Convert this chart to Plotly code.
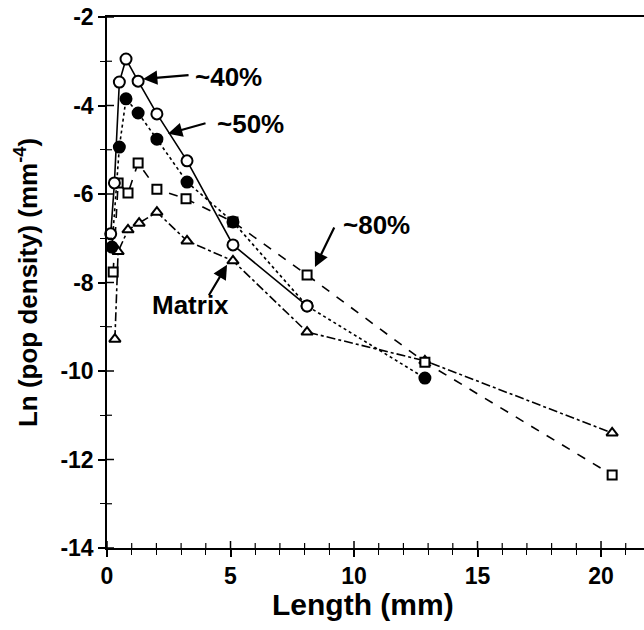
import plotly.graph_objects as go

# Length bins (mm) and ln(population density) for each porosity group
len_40 = [0.15, 0.3, 0.5, 0.77, 1.26, 2.02, 3.24, 5.1, 8.1]
ln_40 = [-6.9, -5.75, -3.47, -2.95, -3.45, -4.19, -5.25, -7.15, -8.53]

len_50 = [0.2, 0.5, 0.77, 1.26, 2.02, 3.24, 5.1, 8.1, 12.87]
ln_50 = [-7.2, -4.94, -3.85, -4.17, -4.76, -5.73, -6.63, -8.53, -10.16]

len_80 = [0.25, 0.45, 0.85, 1.26, 2.02, 3.2, 5.1, 8.1, 12.87, 20.45]
ln_80 = [-7.76, -5.75, -5.98, -5.3, -5.89, -6.11, -6.63, -7.83, -9.8, -12.35]

len_mx = [0.32, 0.45, 0.85, 1.3, 2.02, 3.24, 5.1, 8.1, 12.87, 20.45]
ln_mx = [-9.28, -7.3, -6.81, -6.66, -6.41, -7.06, -7.51, -9.12, -9.77, -11.4]

x_ticks = [0, 5, 10, 15, 20]
y_ticks = [-2, -4, -6, -8, -10, -12, -14]
x_minor = list(range(0, 22))
y_minor = list(range(-14, -1))

FONT = "Liberation Sans, Arial, sans-serif"
INK = "black"

x_range = [0, 21.74]
y_range = [-14, -2]

fig = go.Figure()


def add_series(xs, ys, dash, symbol, fill, size):
    fig.add_trace(go.Scatter(
        x=xs, y=ys, mode="lines+markers",
        line=dict(color=INK, width=1.6, dash=dash),
        marker=dict(symbol=symbol, size=size, color=fill,
                    line=dict(color=INK, width=2)),
        showlegend=False, cliponaxis=False,
    ))


add_series(len_mx, ln_mx, "dashdot", "triangle-up", "white", 10)
add_series(len_80, ln_80, "dash", "square", "white", 9)
add_series(len_50, ln_50, "dot", "circle", INK, 11)
add_series(len_40, ln_40, "solid", "circle", "white", 11)

tick_font = dict(family=FONT, size=23, color=INK, weight="bold")
title_font_x = dict(family=FONT, size=30, color=INK, weight="bold")
title_font_y = dict(family=FONT, size=26, color=INK, weight="bold")

fig.update_layout(
    width=644, height=630,
    margin=dict(l=107, r=0, t=17, b=82),
    paper_bgcolor="white", plot_bgcolor="white",
    xaxis=dict(
        range=x_range, showgrid=False, zeroline=False,
        showline=True, linecolor=INK, linewidth=1.5, mirror=True,
        tickmode="array", tickvals=x_ticks, ticktext=[str(v) for v in x_ticks],
        ticks="outside", ticklen=7, tickwidth=1.5, tickcolor=INK,
        minor=dict(dtick=1, ticks="outside", ticklen=5, tickwidth=1.2, tickcolor=INK),
        tickfont=tick_font,
    ),
    yaxis=dict(
        range=y_range, showgrid=False, zeroline=False,
        showline=True, linecolor=INK, linewidth=1.5,
        tickmode="array", tickvals=y_ticks, ticktext=[str(v) for v in y_ticks],
        ticks="outside", ticklen=7, tickwidth=1.5, tickcolor=INK,
        minor=dict(dtick=1, ticks="outside", ticklen=5, tickwidth=1.2, tickcolor=INK),
        tickfont=tick_font,
        title=dict(text="Ln (pop density) (mm<sup>-4</sup>)", font=title_font_y, standoff=15),
    ),
)

# inner half of the crossing tick marks (pixel-length segments anchored on the axes)
for v in x_minor:
    L = 7 if v % 5 == 0 else 5
    fig.add_shape(type="line", xref="x", yref="y", ysizemode="pixel",
                  yanchor=y_range[0], x0=v, x1=v, y0=0, y1=L,
                  line=dict(color=INK, width=1.5 if L == 7 else 1.2))
for v in y_minor:
    L = 7 if v % 2 == 0 else 5
    fig.add_shape(type="line", xref="x", yref="y", xsizemode="pixel",
                  xanchor=x_range[0], y0=v, y1=v, x0=0, x1=L,
                  line=dict(color=INK, width=1.5 if L == 7 else 1.2))

# x-axis title
fig.add_annotation(x=10.36, xref="x", y=-0.107, yref="paper", yanchor="middle",
                   text="Length (mm)", showarrow=False, font=title_font_x)

label_font = dict(family=FONT, size=26, color=INK, weight="bold")

# text labels
labels = [
    ("~40%", 4.9, -3.36),
    ("~50%", 5.79, -4.42),
    ("~80%", 10.93, -6.70),
    ("Matrix", 3.36, -8.51),
]
for text, lx, ly in labels:
    fig.add_annotation(x=lx, y=ly, text=text, showarrow=False, font=label_font)

# arrows: tip in data coords, tail offset in pixels
arrows = [
    (1.46, -3.40, 47, -4),
    (2.47, -4.64, 39, -11),
    (8.42, -7.65, 20, -41),
    (4.86, -7.60, -19, 32),
]
for tx, ty, ax, ay in arrows:
    fig.add_annotation(x=tx, y=ty, ax=ax, ay=ay, text="", showarrow=True,
                       arrowhead=2, arrowsize=1.3, arrowwidth=2.2, arrowcolor=INK)

fig.write_html("out.html")
